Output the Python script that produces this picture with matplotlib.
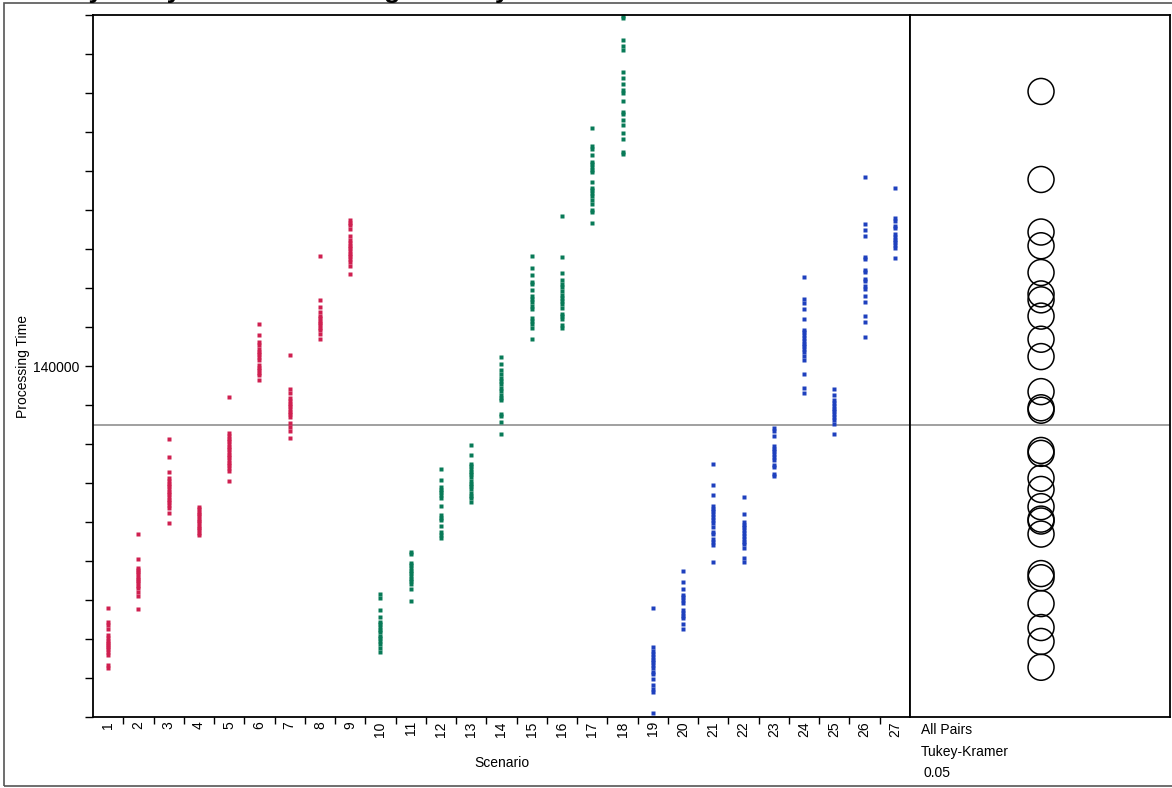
import matplotlib.pyplot as plt
import numpy as np
from matplotlib.patches import Rectangle
from matplotlib.ticker import FixedLocator, MultipleLocator, NullFormatter

plt.rcParams["font.family"] = ["Liberation Sans", "DejaVu Sans"]

# Processing time observations per scenario, in three blocks of nine
times_1_9 = [
    [133803, 133436, 133350, 133265, 133102, 133034, 132948, 132897, 132846,
     132795, 132735, 132675, 132590, 132333, 132247],
    [135701, 135060, 134829, 134778, 134718, 134658, 134598, 134538, 134487,
     134427, 134367, 134307, 134214, 134102, 133777],
    [138128, 137658, 137290, 137119, 137051, 136983, 136914, 136846, 136777,
     136709, 136641, 136572, 136504, 136436, 136367, 136230, 135965],
    [136384, 136324, 136265, 136205, 136145, 136085, 136025, 135965, 135906,
     135846, 135786, 135726, 135666],
    [139213, 138273, 138205, 138136, 138068, 138000, 137931, 137863, 137795,
     137726, 137658, 137589, 137521, 137453, 137384, 137316, 137051],
    [141068, 140795, 140624, 140538, 140427, 140367, 140299, 140230, 140162,
     140025, 139957, 139889, 139820, 139769, 139649],
    [140290, 139401, 139316, 139171, 139102, 139034, 138965, 138897, 138829,
     138760, 138692, 138538, 138436, 138333, 138162],
    [142829, 141683, 141504, 141393, 141282, 141222, 141162, 141102, 141042,
     140983, 140923, 140812, 140692],
    [143743, 143675, 143606, 143521, 143333, 143222, 143153, 143085, 143017,
     142948, 142880, 142812, 142743, 142675, 142555, 142359],
]
times_10_18 = [
    [134145, 134043, 133752, 133564, 133444, 133376, 133308, 133239, 133171,
     133085, 133017, 132949, 132880, 132778, 132658],
    [135239, 135171, 134957, 134889, 134820, 134752, 134684, 134615, 134547,
     134479, 134410, 134273, 133974],
    [137359, 137085, 136897, 136829, 136761, 136692, 136624, 136410, 136179,
     136111, 136043, 135906, 135735, 135667, 135598],
    [137966, 137726, 137496, 137427, 137359, 137291, 137222, 137154, 137051,
     136983, 136915, 136846, 136744, 136675, 136607, 136504],
    [140231, 140060, 139889, 139786, 139684, 139615, 139547, 139427, 139359,
     139256, 139188, 139120, 138778, 138709, 138573, 138265],
    [142820, 142521, 142324, 142162, 142093, 141957, 141786, 141717, 141649,
     141529, 141461, 141222, 141153, 141085, 140965, 140700],
    [143846, 142794, 142393, 142196, 142111, 142025, 141923, 141820, 141752,
     141666, 141581, 141478, 141341, 141273, 141205, 141051, 140965],
    [146111, 145640, 145572, 145401, 145239, 145170, 145102, 145034, 144965,
     144726, 144572, 144504, 144435, 144350, 144264, 144162, 144008, 143940,
     143675],
    [148982, 148931, 148367, 148213, 148102, 147529, 147393, 147222, 147085,
     146991, 146794, 146512, 146452, 146299, 146179, 145974, 145828, 145478,
     145427],
]
times_19_27 = [
    [133797, 132794, 132704, 132615, 132543, 132471, 132399, 132328, 132256,
     132166, 132095, 131987, 131808, 131718, 131629, 131091],
    [134756, 134452, 134272, 134138, 134066, 133995, 133923, 133744, 133672,
     133600, 133529, 133394, 133260],
    [137490, 136952, 136683, 136414, 136343, 136271, 136199, 136128, 136056,
     135984, 135877, 135751, 135680, 135572, 135482, 135411, 134963],
    [136647, 136199, 136011, 135930, 135859, 135787, 135715, 135644, 135572,
     135500, 135429, 135339, 135070, 134963],
    [138413, 138323, 138207, 137956, 137884, 137813, 137741, 137669, 137597,
     137472, 137400, 137239, 137167],
    [142293, 141720, 141612, 141469, 141200, 140931, 140860, 140788, 140716,
     140644, 140573, 140501, 140429, 140358, 140250, 140143, 139802, 139444,
     139309],
    [139417, 139246, 139121, 139049, 138978, 138906, 138834, 138762, 138691,
     138619, 138512, 138261],
    [144857, 143638, 143476, 143342, 142804, 142742, 142473, 142401, 142240,
     142168, 142043, 141971, 141792, 141648, 141290, 141128, 140734],
    [144561, 143799, 143727, 143602, 143530, 143387, 143315, 143243, 143172,
     143100, 143028, 142759],
]
block_colors = ["#CF2050", "#087A57", "#1E40BE"]
scenarios = list(range(1, 28))

W, H = 1172, 788


def fx(px):
    return px / W


def fy(py):
    return 1 - py / H


fig = plt.figure(figsize=(W / 100, H / 100), dpi=100)
ax = fig.add_axes([fx(93), fy(717), fx(910) - fx(93), fy(15) - fy(717)])
axr = fig.add_axes([fx(910), fy(717), fx(1170) - fx(910), fy(15) - fy(717)])

all_times = times_1_9 + times_10_18 + times_19_27
colors = [c for c in block_colors for _ in range(9)]

for s, vals, c in zip(scenarios, all_times, colors):
    ax.plot([s] * len(vals), vals, "s", ms=2.3, color=c, mec="none",
            clip_on=False)

# balanced design: grand mean equals the mean of the scenario means
means = [np.mean(v) for v in all_times]
grand_mean = np.mean(means)

ax.set_xlim(0.5, 27.5)
ax.set_ylim(131000, 149000)
ax.axhline(grand_mean, color="#999999", lw=1.3, zorder=0)

ax.xaxis.set_major_locator(FixedLocator(scenarios))
ax.set_xticklabels([str(s) for s in scenarios], rotation=90, fontsize=10)
ax.xaxis.set_minor_locator(FixedLocator([s + 0.5 for s in scenarios[:-1]]))
ax.tick_params(axis="x", which="major", length=0, pad=3)
ax.tick_params(axis="x", which="minor", length=5, width=1, direction="out")

ax.yaxis.set_major_locator(FixedLocator([140000]))
ax.set_yticklabels(["140000"], fontsize=10)
ax.yaxis.set_minor_locator(MultipleLocator(1000))
ax.yaxis.set_minor_formatter(NullFormatter())
ax.tick_params(axis="y", which="both", length=6, width=1, direction="out",
               pad=4)

for sp in ax.spines.values():
    sp.set_linewidth(1.3)

ax.set_xlabel("Scenario", fontsize=10, labelpad=14)
ax.set_ylabel("Processing Time", fontsize=10, labelpad=2)

# comparison circles for the scenario means
axr.set_xlim(0, 1)
axr.set_ylim(ax.get_ylim())
axr.axhline(grand_mean, color="#999999", lw=1.3, zorder=0)
axr.scatter(np.full(len(means), 0.504), means, s=350, facecolors="none",
            edgecolors="black", linewidths=1.1)
axr.set_xticks([])
axr.set_yticks([])
for sp in axr.spines.values():
    sp.set_linewidth(1.3)

fig.text(fx(921), fy(730), "All Pairs", fontsize=10, va="center")
fig.text(fx(921), fy(752), "Tukey-Kramer", fontsize=10, va="center")
fig.text(fx(924), fy(773), "0.05", fontsize=10, va="center")

fig.text(fx(2), fy(-2), "Oneway Analysis of Processing Time By Scenario",
         fontsize=19, fontweight="bold", va="baseline")

fig.add_artist(Rectangle((fx(4), fy(786)), 1.0, fy(3) - fy(786),
                         transform=fig.transFigure, fill=False,
                         edgecolor="#555555", lw=1.2))

fig.savefig("out.png", dpi=100)
plt.close(fig)
